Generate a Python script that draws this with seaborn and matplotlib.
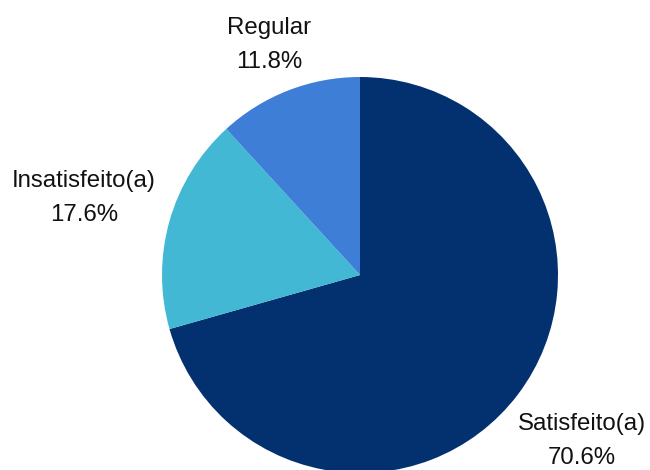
import matplotlib
matplotlib.use("Agg")
import matplotlib.pyplot as plt
import seaborn as sns

# satisfaction survey shares
labels = ["Satisfeito(a)", "Insatisfeito(a)", "Regular"]
shares = [70.6, 17.6, 11.8]
colors = ["#033170", "#42B8D5", "#3E7ED6"]

sns.set_theme(style="white")
plt.rcParams['font.family'] = ['Liberation Sans', 'DejaVu Sans']

fig = plt.figure(figsize=(6.5, 4.7), dpi=100)
ax = fig.add_axes([0, 0, 1, 1])

ax.pie(shares, colors=colors, startangle=90, counterclock=False,
       center=(360, 195), radius=198, frame=True,
       wedgeprops=dict(linewidth=0))
ax.set_xlim(0, 650)
ax.set_ylim(0, 470)
ax.set_aspect("equal")
ax.axis("off")

# label positions (pixel coords, y from bottom)
label_pos = [(582, 29), (84, 272), (269, 425)]
for lab, val, (x, y) in zip(labels, shares, label_pos):
    ax.text(x, y, "{0}\n{1:.1f}%".format(lab, val), ha="center", va="center",
            fontsize=17.3, color="#111111", linespacing=1.7)

fig.savefig("out.png", dpi=100)
